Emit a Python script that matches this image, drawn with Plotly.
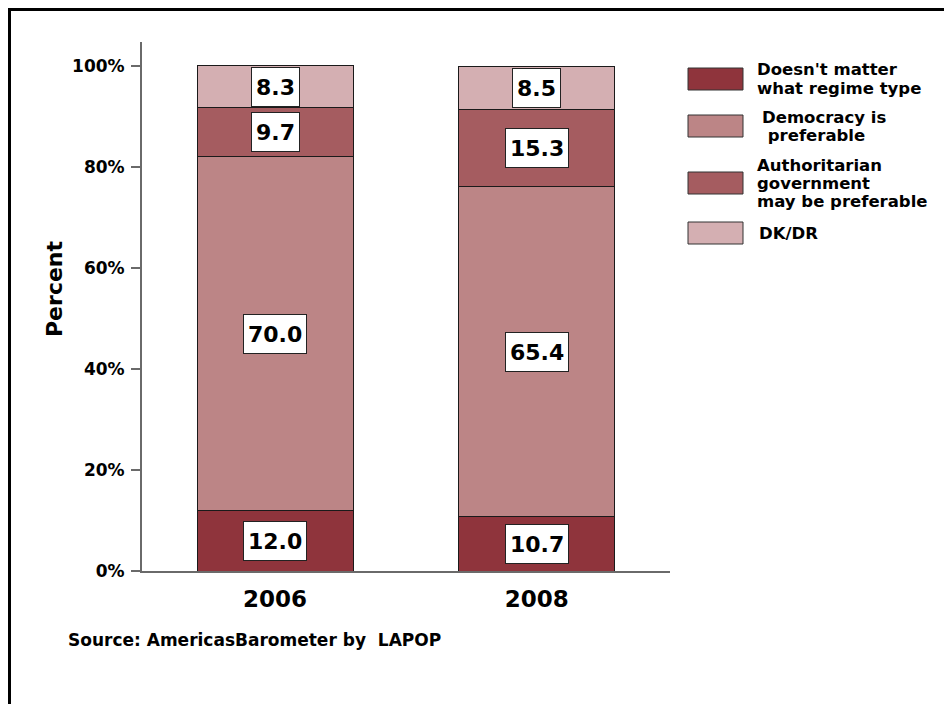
import plotly.graph_objects as go

years = ["2006", "2008"]
series_names = [
    "Doesn't matter<br>what regime type",
    "Democracy is<br> preferable",
    "Authoritarian<br>government<br>may be preferable",
    "DK/DR",
]
doesnt_matter = [12.0, 10.7]
democracy = [70.0, 65.4]
authoritarian = [9.7, 15.3]
dk_dr = [8.3, 8.5]
y_ticks = [0, 20, 40, 60, 80, 100]
y_tick_labels = ["0%", "20%", "40%", "60%", "80%", "100%"]
source_text = "Source: AmericasBarometer by  LAPOP"

series_values = [doesnt_matter, democracy, authoritarian, dk_dr]
colors = ["#8F343C", "#BC8586", "#A55C60", "#D4AFB2"]

FONT = "DejaVu Sans"
OFF = 8  # page body margin
W, H = 952, 704
# plot area in screen pixels
SX0, SX1, SY0, SY1 = 142, 670, 42, 571
L, R, T, B = SX0 - OFF, W - (SX1 - OFF), SY0 - OFF, H - (SY1 - OFF)
PW, PH = W - L - R, H - T - B


def px_x(sx):
    return (sx - SX0) / PW


def px_y(sy):
    return (SY1 - sy) / PH


xpos = list(range(len(years)))

fig = go.Figure()
for name, vals, col in zip(series_names, series_values, colors):
    fig.add_trace(go.Bar(
        x=xpos, y=vals, name=name.replace("<br>", " "),
        marker=dict(color=col, line=dict(color="#1a1a1a", width=1)),
        width=0.597, showlegend=False, hoverinfo="skip",
    ))

annotations = []
# value labels
for i in xpos:
    base = 0.0
    for vals in series_values:
        v = vals[i]
        annotations.append(dict(
            x=i, y=base + v / 2, xref="x", yref="y", text=f"{v:.1f}",
            showarrow=False, bgcolor="white", bordercolor="#222222",
            borderwidth=1, borderpad=4, height=30,
            font=dict(family=FONT, size=22, color="black", weight="bold"),
        ))
        base += v

# y axis title
annotations.append(dict(
    x=px_x(54), y=px_y(289), xref="paper", yref="paper", text="Percent",
    textangle=-90, showarrow=False, xanchor="center", yanchor="middle",
    font=dict(family=FONT, size=22, color="black", weight="bold"),
))

# source
annotations.append(dict(
    x=px_x(66), y=px_y(640), xref="paper", yref="paper", text=source_text,
    showarrow=False, xanchor="left", yanchor="middle",
    font=dict(family=FONT, size=17, color="black", weight="bold"),
))

shapes = []
# custom legend
swatch_centers = [79, 126, 183, 233]
text_x = [755, 760, 755, 757]
pitch = 18
for name, col, cy, tx in zip(series_names, colors, swatch_centers, text_x):
    shapes.append(dict(
        type="rect", xref="paper", yref="paper",
        x0=px_x(688), x1=px_x(743), y0=px_y(cy - 11), y1=px_y(cy + 11),
        fillcolor=col, line=dict(color="#333333", width=1),
    ))
    lines = name.split("<br>")
    n = len(lines)
    for k, ln in enumerate(lines):
        ly = cy + (k - (n - 1) / 2) * pitch
        annotations.append(dict(
            x=px_x(tx), y=px_y(ly), xref="paper", yref="paper",
            text=ln.replace(" ", "&nbsp;") if ln.startswith(" ") else ln,
            showarrow=False, xanchor="left", yanchor="middle",
            font=dict(family=FONT, size=16.5, color="black", weight="bold"),
        ))

# outer frame
shapes.append(dict(
    type="rect", xref="paper", yref="paper",
    x0=px_x(9.5), x1=px_x(990), y0=px_y(9.5), y1=px_y(750),
    line=dict(color="black", width=3), fillcolor="rgba(0,0,0,0)", layer="above",
))

fig.update_layout(
    width=W, height=H,
    margin=dict(l=L, r=R, t=T, b=B, pad=0),
    barmode="stack",
    plot_bgcolor="white", paper_bgcolor="white",
    annotations=annotations, shapes=shapes,
    showlegend=False,
    xaxis=dict(
        range=[-0.509, 1.51], tickvals=xpos, ticktext=years,
        showline=True, linecolor="#6a6a6a", linewidth=2,
        ticks="", showgrid=False, zeroline=False,
        tickfont=dict(family=FONT, size=23, color="black", weight="bold"),
        ticklabelstandoff=6,
    ),
    yaxis=dict(
        range=[0, 104.75], tickvals=y_ticks, ticktext=y_tick_labels,
        showline=True, linecolor="#6a6a6a", linewidth=2,
        ticks="outside", ticklen=9, tickwidth=2, tickcolor="#6a6a6a",
        showgrid=False, zeroline=False,
        tickfont=dict(family=FONT, size=17, color="black", weight="bold"),
        ticklabelstandoff=3,
    ),
)

fig.write_html("out.html")
